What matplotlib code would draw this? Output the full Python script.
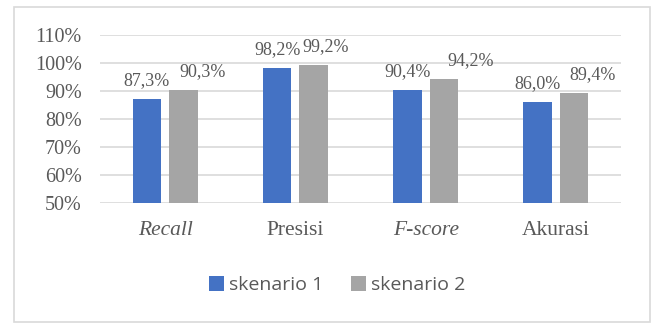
import matplotlib
matplotlib.use("Agg")
import matplotlib.pyplot as plt
from matplotlib.patches import Rectangle

# metric scores (%) for the two scenarios
CATEGORIES = ["Recall", "Presisi", "F-score", "Akurasi"]
ITALIC = [True, False, True, False]
SKENARIO_1 = [87.3, 98.2, 90.4, 86.0]
SKENARIO_2 = [90.3, 99.2, 94.2, 89.4]
YTICKS = [50, 60, 70, 80, 90, 100, 110]

BLUE = "#4472C4"
GRAY = "#A5A5A5"
TXT = "#595959"
GRID = "#D9D9D9"
SERIF = "Liberation Serif"
SANS = "Open Sans"

# second-series labels are nudged right so they don't collide (points)
LBL2_DX = [14, 9, 19, 13]

W = 0.22
GAP = 0.06

fig = plt.figure(figsize=(6.53, 3.23), dpi=100)
ax = fig.add_axes([100 / 653, 1 - 203 / 323, 521 / 653, 168 / 323])

x = list(range(len(CATEGORIES)))
x1 = [i - (W + GAP) / 2 for i in x]
x2 = [i + (W + GAP) / 2 for i in x]
b1 = ax.bar(x1, [v - 50 for v in SKENARIO_1], W, bottom=50, color=BLUE,
            label="skenario 1", zorder=3)
b2 = ax.bar(x2, [v - 50 for v in SKENARIO_2], W, bottom=50, color=GRAY,
            label="skenario 2", zorder=3)

for xi, v in zip(x1, SKENARIO_1):
    ax.annotate(f"{v:.1f}%".replace(".", ","), (xi, v), xytext=(0, 7),
                textcoords="offset points", ha="center", va="bottom",
                fontsize=13, family=SERIF, color=TXT)
for xi, v, dx in zip(x2, SKENARIO_2, LBL2_DX):
    ax.annotate(f"{v:.1f}%".replace(".", ","), (xi, v), xytext=(dx, 7),
                textcoords="offset points", ha="center", va="bottom",
                fontsize=13, family=SERIF, color=TXT)

ax.set_xlim(-0.5, len(CATEGORIES) - 0.5)
ax.set_ylim(50, 110)
ax.set_yticks(YTICKS)
ax.set_yticklabels([f"{t}%" for t in YTICKS], family=SERIF, fontsize=14.5, color=TXT)
ax.set_xticks(x)
ax.set_xticklabels(CATEGORIES, family=SERIF, fontsize=15.5, color=TXT)
for lbl, it in zip(ax.get_xticklabels(), ITALIC):
    if it:
        lbl.set_style("italic")
ax.tick_params(axis="x", length=0, pad=13)
ax.tick_params(axis="y", length=0, pad=13)
ax.grid(axis="y", color=GRID, lw=1.2, zorder=0)
for s in ax.spines.values():
    s.set_visible(False)

leg = fig.legend(handles=[b1, b2], loc="center", bbox_to_anchor=(337 / 653, 1 - 285 / 323),
                 ncol=2, frameon=False, handlelength=0.8, handleheight=0.8,
                 handletextpad=0.25, columnspacing=1.4,
                 prop={"family": SANS, "size": 14})
for t in leg.get_texts():
    t.set_color(TXT)

fig.patches.append(Rectangle((14 / 653, 1 / 323), 636 / 653, 315 / 323,
                             transform=fig.transFigure, fill=False,
                             edgecolor=GRID, lw=1.2))

fig.savefig("out.png", dpi=100)
